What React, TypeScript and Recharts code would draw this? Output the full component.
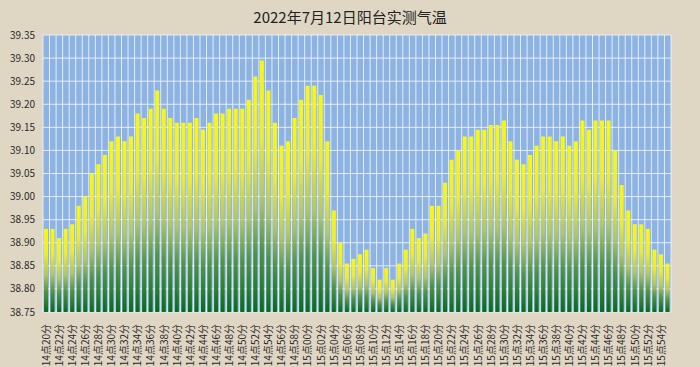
import { BarChart, Bar, XAxis, YAxis, CartesianGrid } from 'recharts'

// 14:20 .. 15:55, one reading per minute
const START_MIN = 14 * 60 + 20
const COUNT = 96
const times = Array.from({ length: COUNT }, (_, i) => {
  const t = START_MIN + i
  const h = Math.floor(t / 60)
  const m = t % 60
  return `${h}点${m < 10 ? '0' + m : m}分`
})

const temps = [
  38.93, 38.93, 38.91, 38.93, 38.94, 38.98, 39.0, 39.05, 39.07, 39.09,
  39.12, 39.13, 39.12, 39.13, 39.18, 39.17, 39.19, 39.23, 39.19, 39.17,
  39.16, 39.16, 39.16, 39.17, 39.145, 39.16, 39.18, 39.18, 39.19, 39.19,
  39.19, 39.21, 39.26, 39.295, 39.23, 39.16, 39.11, 39.12, 39.17, 39.21,
  39.24, 39.24, 39.22, 39.12, 38.97, 38.9, 38.855, 38.865, 38.875, 38.885,
  38.845, 38.82, 38.845, 38.82, 38.855, 38.885, 38.93, 38.91, 38.92, 38.98,
  38.98, 39.03, 39.08, 39.1, 39.13, 39.13, 39.145, 39.145, 39.155, 39.155,
  39.165, 39.12, 39.08, 39.07, 39.09, 39.11, 39.13, 39.13, 39.12, 39.13,
  39.11, 39.12, 39.165, 39.145, 39.165, 39.165, 39.165, 39.1, 39.025, 38.97,
  38.94, 38.94, 38.93, 38.885, 38.875, 38.855,
]

const yTicks = [38.75, 38.8, 38.85, 38.9, 38.95, 39.0, 39.05, 39.1, 39.15, 39.2, 39.25, 39.3, 39.35]

const data = times.map((t, i) => ({ time: t, temp: temps[i] }))

const FONT = '"Noto Sans CJK SC", "DejaVu Sans", sans-serif'

const TimeTick = ({ x, y, payload }: any) => (
  <text
    x={0}
    y={0}
    transform={`translate(${x + 3.5},${y + 4}) rotate(-90)`}
    textAnchor="end"
    fontSize={10}
    fill="#2a2a2a"
    fontFamily={FONT}
  >
    {payload.value}
  </text>
)

export default function App() {
  return (
    <div style={{ width: 700, height: 367, background: '#dfd6c3', position: 'relative' }}>
      <style>{`body{margin:0}`}</style>
      <div
        style={{
          position: 'absolute',
          top: 6,
          width: 700,
          textAlign: 'center',
          fontSize: 15,
          fontFamily: FONT,
          color: '#222',
        }}
      >
        2022年7月12日阳台实测气温
      </div>
      <BarChart
        width={700}
        height={367}
        data={data}
        margin={{ top: 35, right: 29, left: 0, bottom: 0 }}
        barSize={4}
      >
        <defs>
          <linearGradient id="barFill" x1="0" y1="0" x2="0" y2="1">
            <stop offset="0%" stopColor="#f8f812" />
            <stop offset="30%" stopColor="#eded2e" />
            <stop offset="55%" stopColor="#b8ca50" stopOpacity={0.85} />
            <stop offset="75%" stopColor="#4a9034" stopOpacity={0.9} />
            <stop offset="100%" stopColor="#0b6a1c" />
          </linearGradient>
        </defs>
        <CartesianGrid
          fill="#8cb3e2"
          stroke="#eef3fb"
          strokeOpacity={0.9}
          verticalCoordinatesGenerator={({ offset }: any) =>
            Array.from({ length: COUNT + 1 }, (_, i) => offset.left + (i * offset.width) / COUNT)
          }
        />
        <XAxis
          dataKey="time"
          interval={1}
          tick={<TimeTick />}
          axisLine={false}
          tickLine={false}
          height={55}
        />
        <YAxis
          domain={[38.75, 39.35]}
          ticks={yTicks}
          allowDataOverflow
          tickFormatter={(v: number) => v.toFixed(2)}
          tick={{ fill: '#2a2a2a', fontSize: 10, fontFamily: FONT }}
          axisLine={false}
          tickLine={false}
          width={43}
        />
        <Bar dataKey="temp" fill="url(#barFill)" isAnimationActive={false} />
      </BarChart>
    </div>
  )
}
